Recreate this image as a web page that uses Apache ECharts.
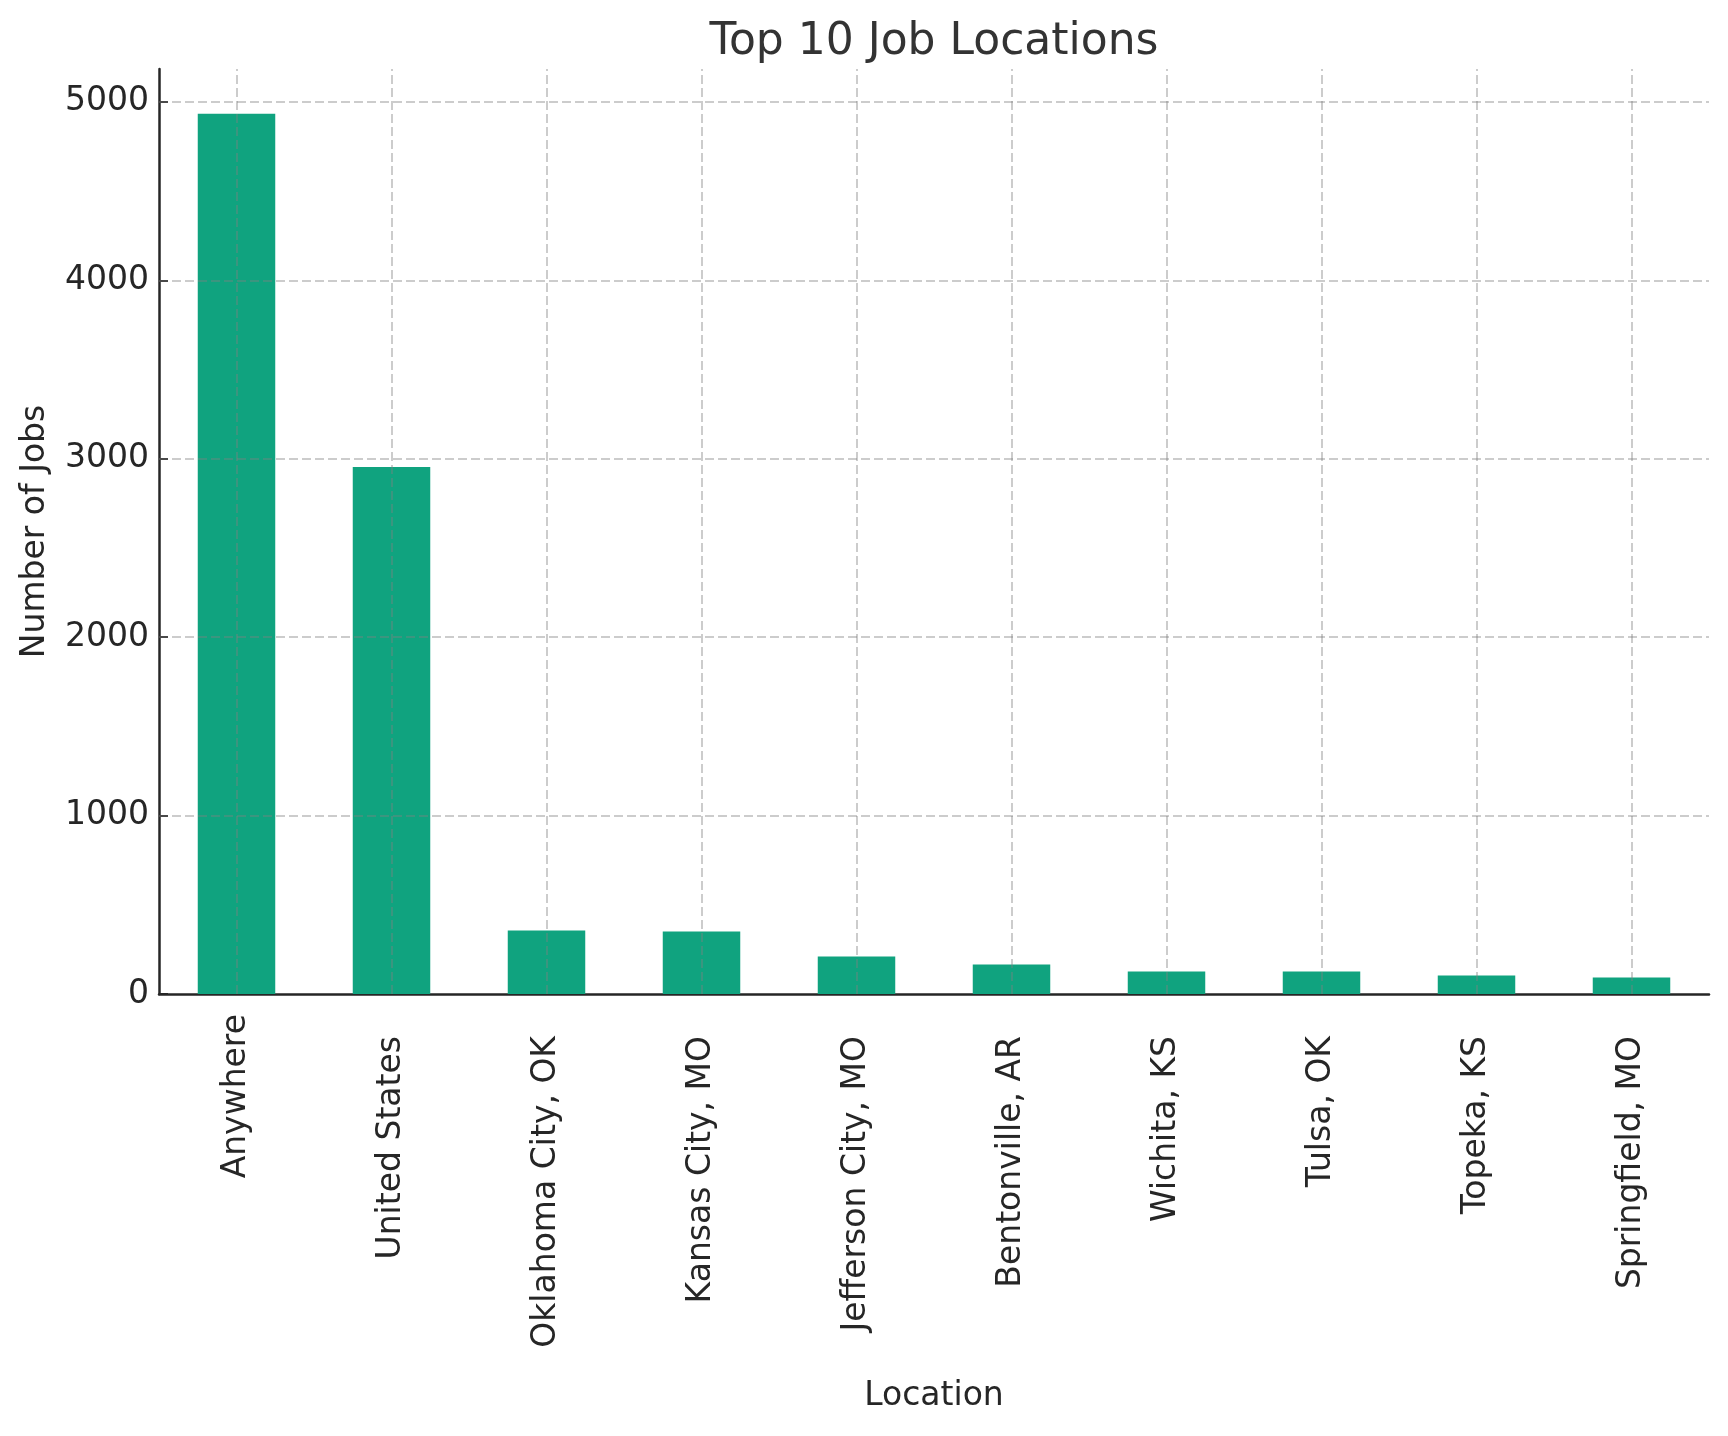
<!DOCTYPE html>
<html>
<head>
<meta charset="utf-8">
<script src="https://cdn.jsdelivr.net/npm/echarts@6/dist/echarts.min.js"></script>
<style>
html,body{margin:0;padding:0;background:#fff;}
#chart{width:1728px;height:1436px;}
</style>
</head>
<body>
<div id="chart"></div>
<script>
const categories = ['Anywhere', 'United States', 'Oklahoma City, OK', 'Kansas City, MO', 'Jefferson City, MO', 'Bentonville, AR', 'Wichita, KS', 'Tulsa, OK', 'Topeka, KS', 'Springfield, MO'];
const jobCounts = [4933, 2954, 356, 350, 210, 165, 126, 126, 104, 93];
const yTicks = [0, 1000, 2000, 3000, 4000, 5000];

const FONT = 'DejaVu Sans';
const gridStyle = { color: 'rgba(128,128,128,0.4)', width: 2, type: [9, 4] };

const chart = echarts.init(document.getElementById('chart'), null, { renderer: 'canvas' });
chart.setOption({
  animation: false,
  backgroundColor: '#ffffff',
  title: {
    text: 'Top 10 Job Locations',
    left: 934,
    textAlign: 'center',
    top: 21,
    padding: 0,
    textStyle: { fontFamily: FONT, fontSize: 44, fontWeight: 'normal', color: '#333333' }
  },
  grid: { left: 159, right: 19, top: 69, bottom: 442, containLabel: false },
  xAxis: {
    type: 'category',
    data: categories.map((c, i) => i === 0 ? c : { value: c, textStyle: { padding: [0, 22, 0, 0] } }),
    name: 'Location',
    nameLocation: 'middle',
    nameGap: 386,
    nameTextStyle: { fontFamily: FONT, fontSize: 33, color: '#262626' },
    axisLine: { show: true, lineStyle: { color: '#262626', width: 2.5 } },
    axisTick: { show: true, alignWithLabel: true, inside: true, length: 9, lineStyle: { color: '#262626', width: 2 } },
    axisLabel: { rotate: 90, margin: 20, interval: 0, fontFamily: FONT, fontSize: 33, color: '#262626' },
    splitLine: { show: false }
  },
  yAxis: {
    type: 'value',
    min: 0,
    max: 5184,
    interval: 1000,
    name: 'Number of Jobs',
    nameLocation: 'middle',
    nameRotate: 90,
    nameGap: 107,
    nameTextStyle: { fontFamily: FONT, fontSize: 33, color: '#262626' },
    axisLine: { show: true, lineStyle: { color: '#262626', width: 2.5 } },
    axisTick: { show: true, inside: true, length: 9, customValues: yTicks, lineStyle: { color: '#262626', width: 2 } },
    axisLabel: { margin: 10, customValues: yTicks, fontFamily: FONT, fontSize: 33, color: '#262626', formatter: v => String(v) },
    splitLine: { show: false }
  },
  series: [{
    type: 'bar',
    data: jobCounts,
    barWidth: '50%',
    itemStyle: { color: '#10a37f' },
    markLine: {
      silent: true,
      symbol: 'none',
      label: { show: false },
      lineStyle: gridStyle,
      data: yTicks.filter(v => v > 0).map(v => ({ yAxis: v }))
        .concat(categories.map(c => ({ xAxis: c })))
    }
  }]
});
</script>
</body>
</html>
